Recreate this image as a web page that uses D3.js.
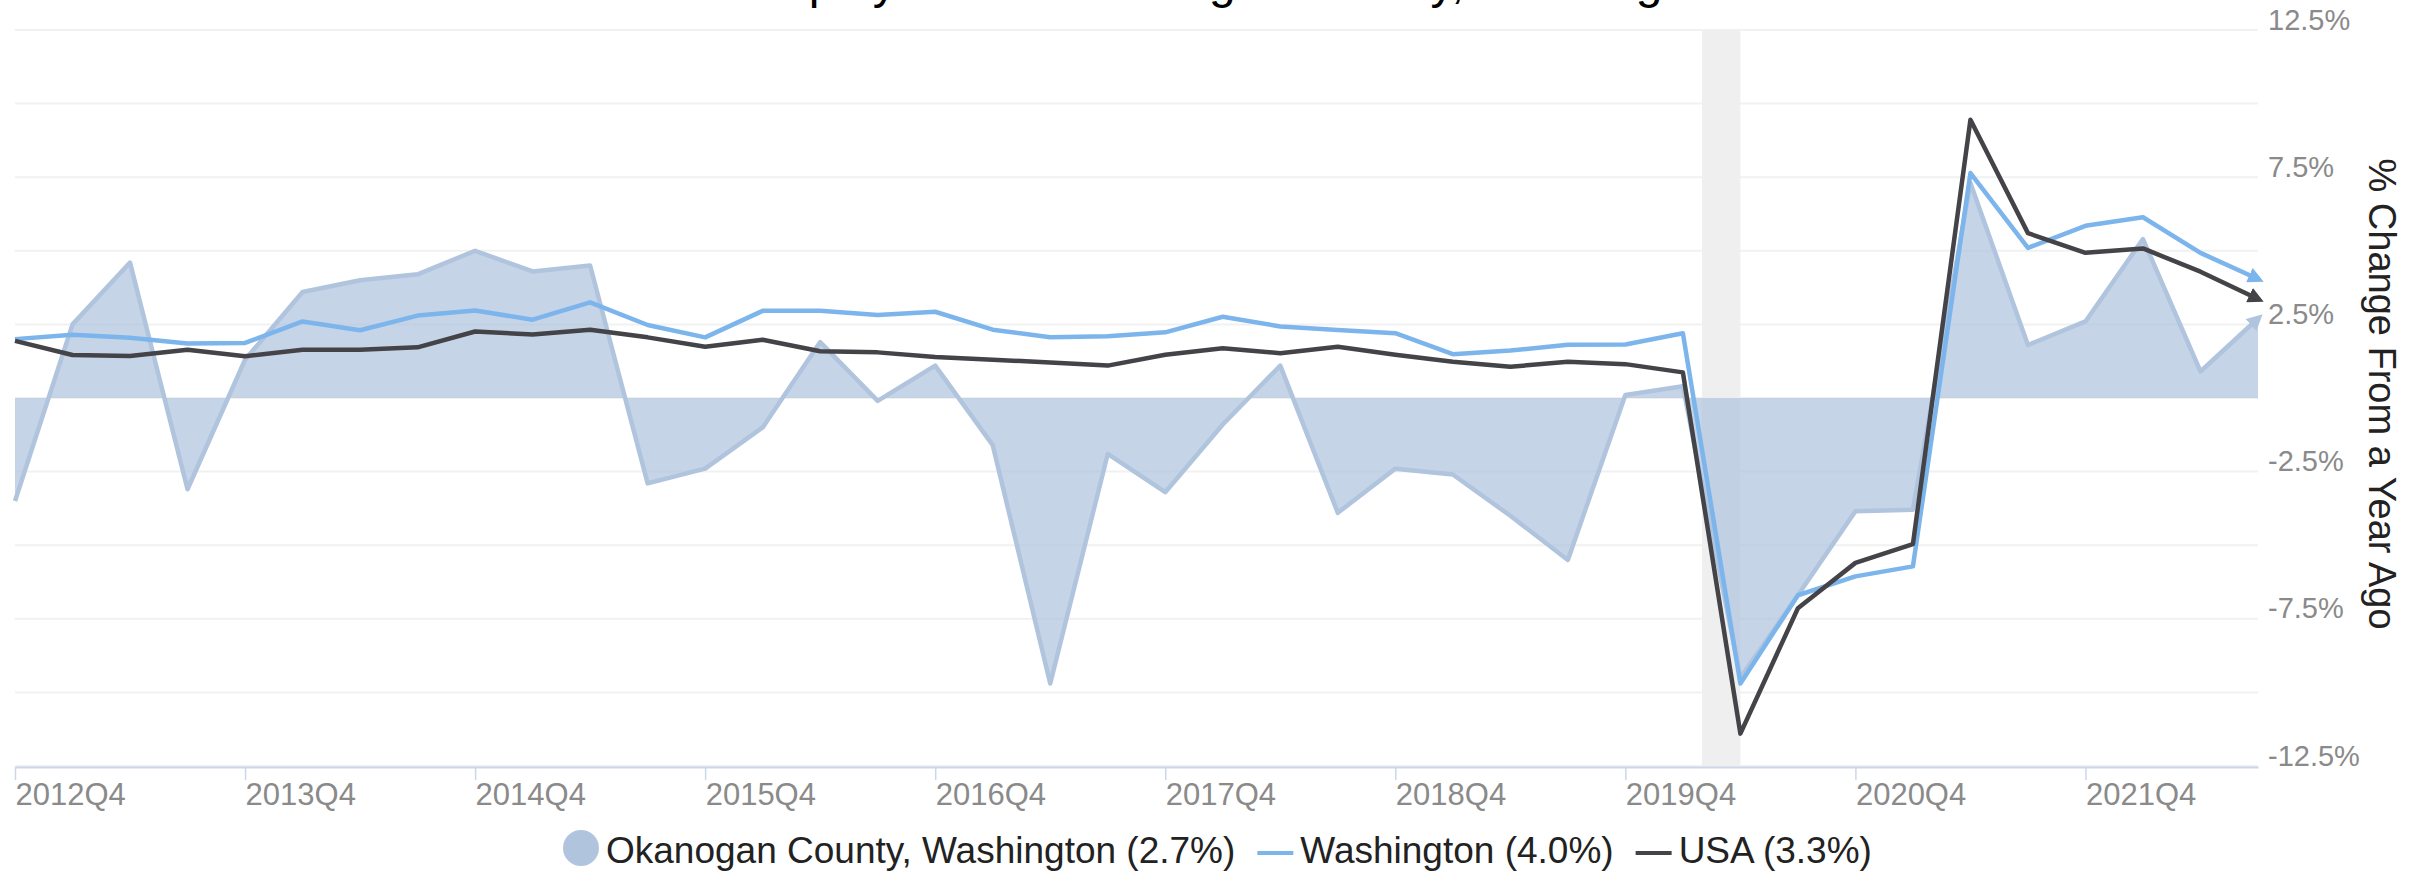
<!DOCTYPE html>
<html>
<head>
<meta charset="utf-8">
<script src="https://cdn.jsdelivr.net/npm/d3@7"></script>
<style>
  body { margin: 0; background: #fff; }
  text { font-family: "Liberation Sans", Arial, sans-serif; }
</style>
</head>
<body>
<div id="chart"></div>
<script>
// quarterly % change from a year ago, 2012Q4 - 2022Q3
var quarters = ["2012Q4",
  "2013Q1","2013Q2","2013Q3","2013Q4","2014Q1","2014Q2","2014Q3","2014Q4",
  "2015Q1","2015Q2","2015Q3","2015Q4","2016Q1","2016Q2","2016Q3","2016Q4",
  "2017Q1","2017Q2","2017Q3","2017Q4","2018Q1","2018Q2","2018Q3","2018Q4",
  "2019Q1","2019Q2","2019Q3","2019Q4","2020Q1","2020Q2","2020Q3","2020Q4",
  "2021Q1","2021Q2","2021Q3","2021Q4","2022Q1","2022Q2","2022Q3"];

var okanogan = [-3.5, 2.5, 4.6, -3.1, 1.3, 3.6, 4.0, 4.2, 5.0, 4.3, 4.5, -2.9,
  -2.4, -1.0, 1.9, -0.1, 1.1, -1.6, -9.7, -1.9, -3.2, -0.9, 1.1, -3.9,
  -2.4, -2.6, -4.0, -5.5, 0.1, 0.4, -9.5, -6.7, -3.85, -3.8, 7.3, 1.8,
  2.6, 5.4, 0.9, 2.7];

var washington = [2.0, 2.15, 2.05, 1.85, 1.87, 2.6, 2.3, 2.8, 2.97, 2.66, 3.25, 2.48,
  2.06, 2.96, 2.96, 2.82, 2.93, 2.32, 2.06, 2.1, 2.23, 2.76, 2.43, 2.31,
  2.2, 1.49, 1.61, 1.81, 1.82, 2.2, -9.7, -6.7, -6.06, -5.72, 7.64, 5.1,
  5.85, 6.14, 4.93, 4.04];

var usa = [1.94, 1.46, 1.43, 1.64, 1.42, 1.64, 1.64, 1.72, 2.26, 2.16, 2.32, 2.06,
  1.74, 1.98, 1.59, 1.55, 1.39, 1.30, 1.21, 1.10, 1.47, 1.69, 1.52, 1.74,
  1.47, 1.23, 1.06, 1.23, 1.15, 0.87, -11.4, -7.14, -5.6, -4.96, 9.45, 5.6,
  4.93, 5.08, 4.29, 3.36];

var xTickLabels = ["2012Q4","2013Q4","2014Q4","2015Q4","2016Q4","2017Q4","2018Q4","2019Q4","2020Q4","2021Q4"];
var yTickLabels = [12.5, 7.5, 2.5, -2.5, -7.5, -12.5];
var yGrid = [12.5, 10, 7.5, 5, 2.5, 0, -2.5, -5, -7.5, -10, -12.5];
var recession = [[2020, 2], [2020, 4]];   // Feb 2020 - Apr 2020

var legendNames = ["Okanogan County, Washington (2.7%)", "Washington (4.0%)", "USA (3.3%)"];

// chart setup
var svgWidth = 2409;
var svgHeight = 875;

var svg = d3.select("#chart")
    .append("svg")
    .attr("width", svgWidth)
    .attr("height", svgHeight);

var x = d3.scaleLinear()
    .domain([0, quarters.length - 1])
    .range([15, 2258]);

var y = d3.scaleLinear()
    .domain([-12.5, 12.5])
    .range([766, 30]);

// month -> position on the quarter index scale
function monthIndex(ym) {
    return (ym[0] - 2012) * 4 + (ym[1] - 1) / 3 - 3;
}

// gridlines
svg.append("g").selectAll("line")
    .data(yGrid)
    .enter()
    .append("line")
    .attr("x1", x(0))
    .attr("x2", x(quarters.length - 1))
    .attr("y1", d => y(d))
    .attr("y2", d => y(d))
    .attr("stroke", "#f1f1f1")
    .attr("stroke-width", 2);

// recession band
svg.append("rect")
    .attr("x", x(monthIndex(recession[0])))
    .attr("width", x(monthIndex(recession[1])) - x(monthIndex(recession[0])))
    .attr("y", y(12.5))
    .attr("height", y(-12.5) - y(12.5))
    .attr("fill", "#efefef");

// arrow markers at line ends
var defs = svg.append("defs");
function addArrow(id, color) {
    defs.append("marker")
        .attr("id", id)
        .attr("viewBox", "0 0 10 10")
        .attr("refX", 6)
        .attr("refY", 5)
        .attr("markerWidth", 3.5)
        .attr("markerHeight", 3.5)
        .attr("markerUnits", "strokeWidth")
        .attr("orient", "auto")
        .append("path")
        .attr("d", "M0,0 L10,5 L0,10 z")
        .attr("fill", color);
}
addArrow("arrowOka", "#b0c4de");
addArrow("arrowWa", "#7cb5ec");
addArrow("arrowUs", "#434348");

// Okanogan area
var area = d3.area()
    .x((d, i) => x(i))
    .y0(y(0))
    .y1(d => y(d));

svg.append("path")
    .datum(okanogan)
    .attr("d", area)
    .attr("fill", "#b0c4de")
    .attr("fill-opacity", 0.72);

var line = d3.line()
    .x((d, i) => x(i))
    .y(d => y(d));

svg.append("path")
    .datum(okanogan)
    .attr("d", line)
    .attr("fill", "none")
    .attr("stroke", "#b0c4de")
    .attr("stroke-width", 4.5)
    .attr("stroke-linejoin", "round")
    .attr("marker-end", "url(#arrowOka)");

svg.append("path")
    .datum(washington)
    .attr("d", line)
    .attr("fill", "none")
    .attr("stroke", "#7cb5ec")
    .attr("stroke-width", 4.5)
    .attr("stroke-linejoin", "round")
    .attr("marker-end", "url(#arrowWa)");

svg.append("path")
    .datum(usa)
    .attr("d", line)
    .attr("fill", "none")
    .attr("stroke", "#434348")
    .attr("stroke-width", 4.5)
    .attr("stroke-linejoin", "round")
    .attr("marker-end", "url(#arrowUs)");

// x axis
var bottomAxis = d3.axisBottom(x)
    .tickValues(xTickLabels.map(d => quarters.indexOf(d)))
    .tickFormat(i => quarters[i])
    .tickSize(13)
    .tickSizeOuter(0);

var xAxisG = svg.append("g")
    .attr("transform", `translate(0, ${y(-12.5) + 1})`)
    .call(bottomAxis);
xAxisG.select(".domain").attr("stroke", "#ccd6eb").attr("stroke-width", 2);
xAxisG.selectAll(".tick line").attr("stroke", "#ccd6eb").attr("stroke-width", 1.5);
xAxisG.selectAll(".tick text")
    .attr("text-anchor", "start")
    .attr("y", 38)
    .attr("dy", null)
    .attr("fill", "#8a8a8a")
    .style("font-size", "31px")
    .style("font-family", "'Liberation Sans', Arial, sans-serif");

// y axis labels on the right
var rightAxis = d3.axisRight(y)
    .tickValues(yTickLabels)
    .tickFormat(d => d + "%")
    .tickSize(0);

var yAxisG = svg.append("g")
    .attr("transform", `translate(${x(quarters.length - 1) + 10}, 0)`)
    .call(rightAxis);
yAxisG.select(".domain").remove();
yAxisG.selectAll(".tick text")
    .attr("x", 0)
    .attr("y", -1)
    .attr("dy", null)
    .attr("fill", "#8a8a8a")
    .style("font-size", "29px")
    .style("font-family", "'Liberation Sans', Arial, sans-serif");

// y axis title
svg.append("text")
    .attr("transform", `translate(2382, ${y(0) - 4}) rotate(90)`)
    .attr("text-anchor", "middle")
    .attr("dominant-baseline", "central")
    .attr("fill", "#222")
    .style("font-size", "38px")
    .text("% Change From a Year Ago");

// title (partly cut off at top, as in the original)
svg.append("text")
    .attr("x", 1233)
    .attr("y", -2)
    .attr("text-anchor", "middle")
    .attr("fill", "#000")
    .style("font-size", "48px")
    .text("Employment in Okanogan County, Washington");

// legend
var legend = svg.append("g");
var legendColors = ["#b0c4de", "#7cb5ec", "#434348"];
var cursor = 563;
legendNames.forEach(function(name, i) {
    var item = legend.append("g");
    if (i === 0) {
        item.append("circle")
            .attr("cx", cursor + 18)
            .attr("cy", 848)
            .attr("r", 18)
            .attr("fill", legendColors[i]);
    } else {
        item.append("line")
            .attr("x1", cursor)
            .attr("x2", cursor + 36)
            .attr("y1", 853)
            .attr("y2", 853)
            .attr("stroke", legendColors[i])
            .attr("stroke-width", 4);
    }
    var t = item.append("text")
        .attr("x", cursor + 43)
        .attr("y", 863)
        .attr("fill", "#222")
        .style("font-size", "37px")
        .text(name);
    cursor += 43 + t.node().getComputedTextLength() + 22;
});
</script>
</body>
</html>
